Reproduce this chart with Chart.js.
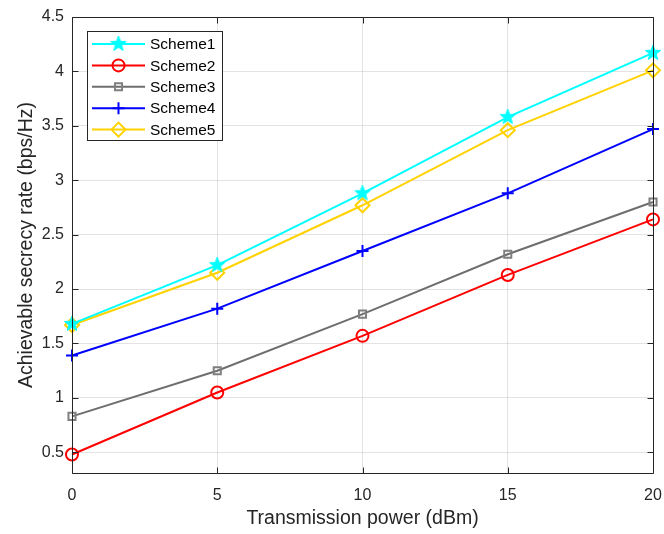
<!DOCTYPE html>
<html>
<head>
<meta charset="utf-8">
<script src="https://cdn.jsdelivr.net/npm/chart.js@4.4.1/dist/chart.umd.min.js"></script>
<style>
  html, body { margin: 0; padding: 0; background: #fff; }
  #wrap { width: 664px; height: 534px; }
</style>
</head>
<body>
<div id="wrap"><canvas id="graph" width="664" height="534"></canvas></div>
<script>
// x values (dBm)
const power = [0, 5, 10, 15, 20];

// achievable secrecy rate (bps/Hz)
const scheme1 = [1.68, 2.22, 2.88, 3.58, 4.17];
const scheme2 = [0.48, 1.05, 1.57, 2.13, 2.64];
const scheme3 = [0.83, 1.25, 1.77, 2.32, 2.80];
const scheme4 = [1.39, 1.82, 2.35, 2.88, 3.47];
const scheme5 = [1.67, 2.15, 2.77, 3.46, 4.01];

const seriesNames = ['Scheme1', 'Scheme2', 'Scheme3', 'Scheme4', 'Scheme5'];
const xTicks = [0, 5, 10, 15, 20];
const yTicks = [0.5, 1, 1.5, 2, 2.5, 3, 3.5, 4, 4.5];

const axisColor = '#262626';
const gridColor = 'rgba(38,38,38,0.13)';
const fontName = '"Liberation Sans", Arial, sans-serif';

// filled pentagram marker (matlab 'p')
function makeStar(color, r) {
  const c = document.createElement('canvas');
  const s = Math.ceil(r * 2 + 4);
  c.width = s; c.height = s;
  const g = c.getContext('2d');
  const cx = s / 2, cy = s / 2;
  g.beginPath();
  for (let i = 0; i < 10; i++) {
    const rr = i % 2 === 0 ? r : r * 0.42;
    const a = -Math.PI / 2 + i * Math.PI / 5;
    const px = cx + rr * Math.cos(a), py = cy + rr * Math.sin(a);
    if (i === 0) g.moveTo(px, py); else g.lineTo(px, py);
  }
  g.closePath();
  g.fillStyle = color;
  g.fill();
  g.strokeStyle = color;
  g.lineWidth = 1;
  g.stroke();
  return c;
}

const starImg = makeStar('#00ffff', 8);

function pts(ys) {
  return power.map((x, i) => ({ x: x, y: ys[i] }));
}

const datasets = [
  { label: seriesNames[0], data: pts(scheme1), borderColor: '#00ffff', backgroundColor: '#00ffff',
    pointStyle: starImg, pointRadius: 8 },
  { label: seriesNames[1], data: pts(scheme2), borderColor: '#ff0000', backgroundColor: 'rgba(0,0,0,0)',
    pointStyle: 'circle', pointRadius: 6 },
  { label: seriesNames[2], data: pts(scheme3), borderColor: '#6e6e6e', backgroundColor: 'rgba(0,0,0,0)',
    pointStyle: 'rect', pointRadius: 5, pointBorderColor: '#7f7f7f' },
  { label: seriesNames[3], data: pts(scheme4), borderColor: '#0000ff', backgroundColor: '#0000ff',
    pointStyle: 'cross', pointRadius: 6 },
  { label: seriesNames[4], data: pts(scheme5), borderColor: '#ffd200', backgroundColor: 'rgba(0,0,0,0)',
    pointStyle: 'rectRot', pointRadius: 7 },
];
datasets.forEach(d => {
  d.borderWidth = 2;
  d.pointBorderWidth = 2;
  d.tension = 0;
  d.fill = false;
  d.showLine = true;
  d.clip = false;
});

// box round the axes plus inward tick marks, like matlab
const boxPlugin = {
  id: 'box',
  afterDraw(chart) {
    const { ctx, chartArea: a, scales } = chart;
    ctx.save();
    ctx.strokeStyle = axisColor;
    ctx.lineWidth = 1;
    ctx.beginPath();
    const l = Math.round(a.left) + 0.5, r = Math.round(a.right) + 0.5;
    const t = Math.round(a.top) + 0.5, b = Math.round(a.bottom) + 0.5;
    ctx.rect(l, t, r - l, b - t);
    xTicks.forEach(v => {
      const x = Math.round(scales.x.getPixelForValue(v)) + 0.5;
      ctx.moveTo(x, b); ctx.lineTo(x, b - 6);
      ctx.moveTo(x, t); ctx.lineTo(x, t + 6);
    });
    yTicks.forEach(v => {
      const y = Math.round(scales.y.getPixelForValue(v)) + 0.5;
      ctx.moveTo(l, y); ctx.lineTo(l + 6, y);
      ctx.moveTo(r, y); ctx.lineTo(r - 6, y);
    });
    ctx.stroke();
    ctx.restore();
  }
};

// legend box top-left, line + marker like matlab
const legendPlugin = {
  id: 'mLegend',
  afterDraw(chart) {
    const { ctx } = chart;
    const bx = 87.5, by = 31.5, bw = 135, bh = 109;
    ctx.save();
    ctx.fillStyle = '#fff';
    ctx.fillRect(bx, by, bw, bh);
    ctx.strokeStyle = axisColor;
    ctx.lineWidth = 1;
    ctx.strokeRect(bx, by, bw, bh);
    ctx.font = '15.5px ' + fontName;
    ctx.textBaseline = 'middle';
    chart.data.datasets.forEach((ds, i) => {
      const y = 44 + i * 21.4;
      ctx.strokeStyle = ds.borderColor;
      ctx.lineWidth = 2;
      ctx.beginPath();
      ctx.moveTo(92, y); ctx.lineTo(145, y);
      ctx.stroke();
      ctx.strokeStyle = ds.pointBorderColor || ds.borderColor;
      ctx.fillStyle = ds.backgroundColor;
      ctx.lineWidth = ds.pointBorderWidth;
      Chart.helpers.drawPoint(ctx, {
        pointStyle: ds.pointStyle, radius: ds.pointRadius, borderWidth: ds.pointBorderWidth, rotation: 0
      }, 118.5, y);
      ctx.fillStyle = '#000';
      ctx.fillText(ds.label, 150, y + 1);
    });
    ctx.restore();
  }
};

const config = {
  type: 'scatter',
  data: { datasets },
  options: {
    responsive: false,
    devicePixelRatio: 1,
    animation: false,
    layout: { padding: { left: 0, right: 11, top: 17, bottom: 0 } },
    plugins: { legend: { display: false }, tooltip: { enabled: false } },
    scales: {
      x: {
        type: 'linear', min: 0, max: 20,
        afterBuildTicks: s => { s.ticks = xTicks.map(v => ({ value: v })); },
        afterFit: s => { s.height = 61; s.paddingLeft = 0; s.paddingRight = 0; },
        grid: { color: gridColor, drawTicks: false },
        border: { display: false },
        ticks: { color: axisColor, padding: 13, font: { family: fontName, size: 16 },
          callback: v => String(v) },
        title: { display: true, text: 'Transmission power (dBm)', color: axisColor,
          padding: { top: 0, bottom: 4 }, font: { family: fontName, size: 19.5 } }
      },
      y: {
        type: 'linear', min: 0.31, max: 4.5,
        afterBuildTicks: s => { s.ticks = yTicks.map(v => ({ value: v })); },
        afterFit: s => { s.width = 72; s.paddingTop = 0; s.paddingBottom = 0; },
        grid: { color: gridColor, drawTicks: false },
        border: { display: false },
        ticks: { color: axisColor, padding: 8, font: { family: fontName, size: 16 },
          callback: v => String(v) },
        title: { display: true, text: 'Achievable secrecy rate (bps/Hz)', color: axisColor,
          padding: { top: 15, bottom: 0 }, font: { family: fontName, size: 19.5 } }
      }
    }
  },
  plugins: [boxPlugin, legendPlugin]
};

const chart = new Chart(document.getElementById('graph'), config);
</script>
</body>
</html>
